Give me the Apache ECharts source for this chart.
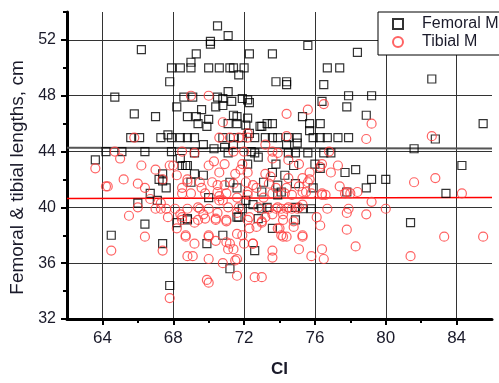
<!DOCTYPE html>
<html>
<head>
<meta charset="utf-8">
<script src="https://cdn.jsdelivr.net/npm/echarts@6/dist/echarts.min.js"></script>
<style>
  html, body { margin: 0; padding: 0; background: #fff; }
  #chart { width: 499px; height: 383px; }
</style>
</head>
<body>
<div id="chart"></div>
<script>
// Femoral length (cm) against CI
const femoralM = [
  [70.5,53.0],[71.1,52.3],[70.1,51.9],[70.1,51.7],[66.2,51.3],[69.3,51.0],[69.0,50.4],[72.3,51.0],[73.6,51.0],[75.6,51.6],[78.4,51.1],
  [67.9,50.0],[68.4,50.0],[69.0,50.0],[70.0,50.0],[70.6,50.0],[71.2,50.0],[71.4,50.0],[72.0,50.0],[76.7,50.0],[77.4,50.0],
  [67.8,49.0],[71.7,49.5],[73.8,49.0],[74.4,49.0],[74.4,48.8],[76.5,48.8],[82.6,49.2],
  [64.7,47.9],[68.6,47.9],[69.1,47.9],[70.5,47.9],[70.8,47.8],[71.1,48.3],[71.3,47.6],[71.9,47.8],[72.2,47.7],[77.9,48.0],[79.2,48.0],
  [72.3,47.5],[76.4,47.6],[77.8,47.2],[78.9,46.6],[75.3,46.5],
  [68.2,47.2],[65.8,46.7],[67.0,46.5],[68.8,46.5],[69.3,46.5],[69.6,47.0],[70.0,46.3],[70.4,47.2],[70.8,47.3],[71.4,46.6],[71.6,46.0],
  [72.1,45.9],[69.9,45.8],[69.4,46.0],[71.1,46.0],[71.6,46.5],[72.2,46.4],[72.9,45.8],
  [72.3,45.3],[73.0,45.8],[73.3,46.0],[73.6,46.0],[75.7,46.0],[76.3,46.0],[85.5,46.0],[75.7,45.5],
  [65.6,45.0],[66.1,45.0],[67.3,45.0],[67.7,45.2],[67.9,45.0],[68.4,45.0],[68.8,45.0],[69.2,45.0],[70.8,45.0],[71.4,45.0],[71.9,45.0],
  [72.6,45.0],[73.2,45.0],[73.6,45.0],[73.9,45.0],[74.5,45.0],[75.0,45.0],[75.0,44.6],[75.9,45.0],[76.3,45.0],[76.7,45.0],[77.3,45.0],[77.9,45.0],[82.8,44.9],[74.4,44.5],
  [64.2,44.0],[65.1,44.0],[66.4,44.0],[67.9,44.0],[69.2,43.9],[70.3,44.2],[70.9,44.3],[71.1,43.9],[71.4,44.5],[69.7,44.5],[72.4,44.0],[72.6,43.9],
  [74.5,43.9],[74.9,43.9],[75.6,43.9],[76.5,43.9],[76.9,43.9],[81.6,44.2],
  [63.6,43.4],[68.4,43.5],[68.5,43.0],[68.7,43.0],[67.4,42.4],[67.2,42.0],[67.4,41.9],[67.6,41.4],[66.7,41.0],[67.1,40.5],[66.0,40.3],
  [66.4,38.8],[64.5,38.0],[67.4,37.4],[67.8,34.4],[68.2,38.9],[68.8,39.2],[70.0,40.7],[69.9,37.4],[70.8,38.0],[71.2,35.6],[71.6,39.3],
  [71.6,41.4],[71.9,39.9],[72.6,36.9],[73.6,38.5],[83.4,41.0],[81.4,38.9],[78.9,41.4],[75.8,39.9],[75.3,39.9],[73.0,39.9],[74.1,41.1],
  [76.0,43.1],[76.3,42.8],[77.7,42.5],[78.3,42.7],[79.2,42.0],[80.0,42.0],[75.9,41.4],[77.8,41.1],[84.3,43.0],
  [68.8,43.0],[69.2,42.4],[69.7,42.3],[69.0,41.8],[71.2,41.8],[72.1,40.5],[68.8,39.1],[71.7,39.3],
  [72.8,43.6],[72.2,43.1],[73.8,43.1],[74.8,43.0],[73.6,42.5],[74.3,42.3],[73.1,41.8],[73.9,41.6],[74.9,41.7],[73.0,41.1],[73.9,40.9],
  [72.5,40.2],[73.3,40.0],[74.9,40.0],[72.8,39.2],[74.9,39.1]
];

// Tibial length (cm) against CI
const tibialM = [
  [69.0,48.0],[70.0,48.0],[70.8,46.1],[74.4,46.7],[75.6,47.0],[76.5,47.4],[79.2,46.0],[78.9,44.9],[82.6,45.1],[72.2,45.3],
  [65.8,45.0],[70.6,45.0],[71.2,45.0],[71.7,45.0],[72.2,45.0],[74.4,45.1],[73.2,44.5],
  [64.7,44.0],[65.0,43.5],[63.6,42.8],[66.2,43.0],[67.0,42.7],[67.8,43.0],[68.0,43.0],[68.2,42.3],[68.5,44.0],[69.2,43.9],[70.3,43.3],
  [67.4,42.0],[65.2,42.0],[66.0,41.7],[66.4,41.4],[64.3,41.5],[71.4,44.0],[72.0,44.0],
  [66.0,40.0],[65.5,39.4],[66.4,37.9],[64.5,36.9],[66.7,40.6],[67.0,39.9],[67.3,39.9],[67.6,39.9],[68.1,39.9],[67.7,39.3],[67.4,36.9],
  [67.8,33.5],[68.2,38.5],[68.5,39.3],[68.8,39.9],[68.7,37.9],[68.8,36.5],[69.1,36.5],[69.2,37.4],[69.7,39.5],[69.5,39.9],[70.0,39.9],
  [70.0,37.9],[70.0,36.3],[69.9,34.8],[70.0,34.6],[70.4,39.2],[70.8,36.0],[71.2,37.4],[71.5,36.2],[71.6,35.1],[71.0,39.0],[70.6,40.5],[70.8,40.5],
  [84.3,41.0],[85.5,37.9],[83.3,37.9],[81.4,36.5],[80.0,39.9],[79.2,40.4],[78.9,39.5],[78.3,37.2],[77.9,39.9],[77.8,39.6],[77.8,38.4],
  [78.4,41.1],[76.7,39.9],[76.3,38.7],[76.1,39.3],[76.4,37.0],[76.5,36.3],[75.8,36.5],[75.3,37.9],[75.1,37.0],[74.8,39.0],[74.2,37.9],
  [74.4,37.9],[73.6,36.9],[73.6,36.4],[73.9,38.5],[73.6,39.5],[74.2,39.5],[72.6,35.0],[73.0,35.0],[73.0,39.0],[72.7,38.6],[72.5,37.4],
  [73.4,39.9],[73.8,39.9],[74.1,39.9],[74.4,39.9],[74.7,39.9],[75.0,39.9],[74.7,40.9],[75.3,41.1],[76.4,40.9],[76.6,40.9],[77.8,41.1],
  [69.2,38.9],[68.7,38.0],[70.0,38.0],[70.4,37.6],[71.0,37.5],[71.1,37.0],[71.4,37.0],[71.6,36.3],[71.6,38.1],[71.9,38.0],[72.0,37.4],
  [72.5,37.4],[72.3,38.5],[73.0,38.9],[74.0,38.5],[74.1,38.0],[75.3,38.0],
  [76.8,44.0],[76.4,43.1],[76.3,42.9],[77.3,43.0],[76.9,42.5],[75.7,42.5],[75.7,42.0],[77.4,41.5],[77.7,41.0],[78.0,41.0],[76.4,41.0],
  [75.8,41.0],[81.6,41.8],[82.8,42.1],
  [73.6,44.0],[73.6,43.5],[74.5,43.4],[75.1,43.1],[75.3,42.1],[75.6,41.8],
  [70.0,43.0],[70.9,43.1],[70.6,42.5],[71.5,42.4],[71.8,42.7],[71.9,43.1],[68.8,41.8],[69.5,41.8],[69.6,41.4],[70.2,41.8],[70.5,41.6],
  [70.9,41.6],[71.4,41.7],[72.1,41.8],[69.0,41.0],[69.8,41.0],[70.5,41.1],[70.6,40.8],[71.0,41.0],[71.6,40.7],[72.2,41.1],[69.4,40.0],
  [71.1,40.0],[71.7,40.0],[70.5,39.6],[71.6,39.6],[69.4,39.1],[69.8,39.2],[70.4,39.1],[71.0,39.1],[72.2,39.1],
  [73.9,43.9],[72.2,42.5],[73.2,42.4],[73.5,42.2],[74.5,42.1],[72.5,41.6],[72.7,41.4],[73.4,41.7],[73.8,41.4],[74.4,41.4],[75.1,41.5],
  [72.2,40.9],[73.1,40.7],[73.6,41.0],[74.3,41.0],[75.5,41.1],[72.8,40.0],[73.9,40.0],[74.5,40.0],[75.1,40.0],[75.3,40.2],[72.3,39.3],
  [73.2,39.3],[74.2,39.1],[74.8,38.6],
  [64.2,41.5],[67.3,40.3],[68.5,41.4],[68.5,41.0],[68.4,39.5],[68.5,39.1],[68.8,42.0]
];

// Linear fits, evaluated at the ends of the CI range
const femoralFit = [[62, 44.28], [86, 44.22]];
const tibialFit = [[62, 40.63], [86, 40.70]];

// Axis ticks
const ciTicks = [64, 68, 72, 76, 80, 84];
const ciMinorTicks = [66, 70, 74, 78, 82];
const lengthMinorTicks = [34, 38, 42, 46, 50, 54];

const FONT = '"Liberation Sans", Arial, sans-serif';
const chart = echarts.init(document.getElementById('chart'), null, { renderer: 'canvas' });

const hollow = (stroke) => ({ color: 'rgba(255,255,255,0)', borderColor: stroke, borderWidth: 1.2 });

chart.setOption({
  animation: false,
  backgroundColor: '#fff',
  grid: { left: 67, right: 7, top: 12, bottom: 56, containLabel: false },
  legend: {
    data: ['Femoral M', 'Tibial M'],
    orient: 'vertical',
    left: 378, top: 12,
    padding: [4, 60, 5, 14],
    itemGap: 2,
    itemWidth: 10, itemHeight: 10,
    backgroundColor: '#fff',
    borderColor: '#000', borderWidth: 1,
    textStyle: { fontFamily: FONT, fontSize: 16, color: '#1a1a2a', padding: [0, 0, 0, 14] }
  },
  xAxis: [{
    type: 'value', min: 62, max: 86,
    name: 'CI', nameLocation: 'middle', nameGap: 42,
    nameTextStyle: { fontFamily: FONT, fontSize: 17, fontWeight: 'bold', color: '#1a1a2a' },
    axisLine: { onZero: false, lineStyle: { color: '#000', width: 3 } },
    axisTick: { length: 6, lineStyle: { color: '#000', width: 2 }, customValues: ciTicks },
    axisLabel: { fontFamily: FONT, fontSize: 17, color: '#1a1a2a', margin: 11, customValues: ciTicks },
    splitLine: { show: true, lineStyle: { color: '#333', width: 1 } }
  }, {
    type: 'value', min: 62, max: 86, position: 'bottom',
    axisLine: { show: false },
    axisTick: { length: 4, lineStyle: { color: '#000', width: 2 }, customValues: ciMinorTicks },
    axisLabel: { show: false },
    splitLine: { show: false }
  }],
  yAxis: [{
    type: 'value', min: 32, max: 54, interval: 4,
    name: 'Femoral & tibial lengths, cm', nameLocation: 'middle', nameGap: 40, nameRotate: 90,
    nameTextStyle: { fontFamily: FONT, fontSize: 19, color: '#1a1a2a', padding: [0, 24, 0, 0] },
    axisLine: { onZero: false, lineStyle: { color: '#000', width: 3 } },
    axisTick: { length: 6, lineStyle: { color: '#000', width: 2 } },
    axisLabel: { fontFamily: FONT, fontSize: 16, color: '#1a1a2a', margin: 11, showMaxLabel: false },
    splitLine: { show: true, showMaxLine: false, showMinLine: false, lineStyle: { color: '#333', width: 1 } }
  }, {
    type: 'value', min: 32, max: 54, position: 'left',
    axisLine: { show: false },
    axisTick: { length: 4, lineStyle: { color: '#000', width: 2 }, customValues: lengthMinorTicks },
    axisLabel: { show: false },
    splitLine: { show: false }
  }],
  series: [
    {
      name: 'Femoral M', type: 'scatter', data: femoralM,
      symbol: 'rect', symbolSize: 8, itemStyle: hollow('#000'), z: 3
    },
    {
      name: 'Tibial M', type: 'scatter', data: tibialM,
      symbol: 'circle', symbolSize: 9, itemStyle: hollow('#ff3c3c'), z: 3
    },
    {
      name: 'Femoral fit', type: 'line', data: femoralFit, symbol: 'none',
      lineStyle: { color: '#555', width: 2 }, z: 2, silent: true
    },
    {
      name: 'Tibial fit', type: 'line', data: tibialFit, symbol: 'none',
      lineStyle: { color: '#ff0000', width: 1.5 }, z: 2, silent: true
    }
  ]
});
</script>
</body>
</html>
